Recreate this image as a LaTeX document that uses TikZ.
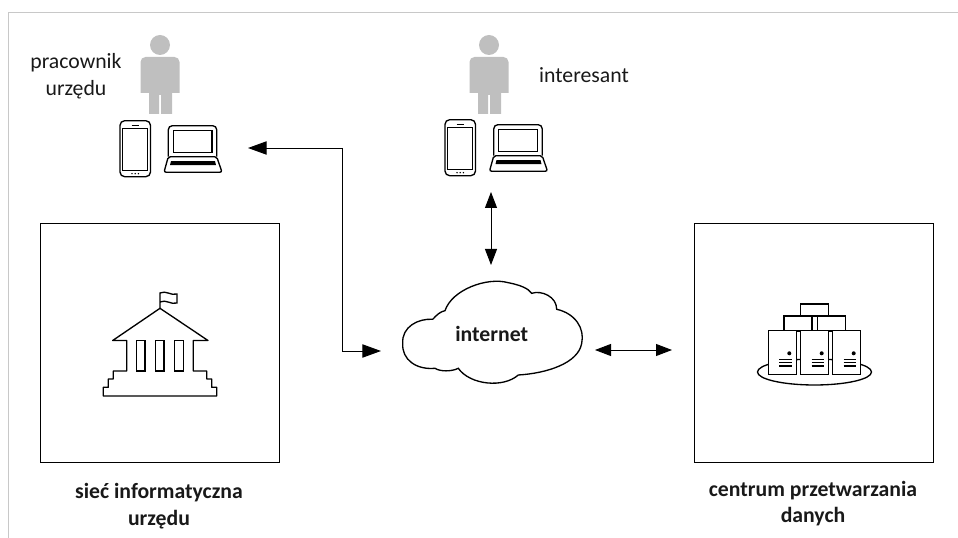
\documentclass[tikz,border=0pt]{standalone}
\usepackage{fontspec}
\setmainfont{Carlito}
\usetikzlibrary{arrows.meta}
\tikzset{every picture/.style={line width=0.75pt}}
\definecolor{framegray}{RGB}{200,200,200}
\definecolor{persongray}{RGB}{191,191,191}
\tikzset{
	label text/.style={font=\fontsize{16.3}{20}\selectfont,align=center,text=black!90},
	bold text/.style={font=\fontsize{16.3}{20}\selectfont\bfseries,align=center,text=black!90},
	link/.style={line width=0.7pt,{Stealth[length=12,width=9,inset=0]}-{Stealth[length=12,width=9,inset=0]}},
	link one/.style={line width=0.7pt,-{Stealth[length=14,width=10,inset=0]}},
	person/.pic={
		\fill [persongray] (0,0) circle [radius=10];
		\fill [persongray] (-19.5,17) arc (180:270:5) -- (14.5,12) arc (270:360:5) -- (19.5,48) -- (12,48) -- (12,69) -- (1,69) -- (1,50) -- (-1,50) -- (-1,69) -- (-11,69) -- (-11,48) -- (-19.5,48) -- cycle;
	},
	phone/.pic={
		\draw [line width=1pt,rounded corners=3.5] (0,0) rectangle (30.5,56);
		\draw [line width=0.9pt] (2.7,8) rectangle (27.7,50);
		\draw [line width=1pt] (11.7,4.5) -- (19.3,4.5);
		\foreach \dotx in {12,15.2,18.4} {\fill (\dotx,53) circle [radius=0.8];}
	},
	laptop/.pic={
		\draw [line width=1pt,rounded corners=3] (4.3,31) -- (4.3,0) -- (52.7,0) -- (52.7,31);
		\draw [line width=0.9pt] (9.3,4.5) rectangle (48,26.5);
		\draw [line width=1pt,rounded corners=1.5] (4.3,31) -- (0,46.5) -- (58,46.5) -- (52.7,31) -- cycle;
		\fill (7,35.5) -- (51,35.5) -- (52,39.5) -- (6,39.5) -- cycle;
	},
	tower/.pic={
		\draw [line width=1pt,fill=white] (0,0) rectangle (28,43.7);
		\fill (21,22.6) circle [radius=2];
		\foreach \liney in {28.6,32,35.3} {\draw [line width=0.8pt] (11,\liney) -- (23.4,\liney);}
	}
}

\begin{document}
\begin{tikzpicture}[x=0.75pt,y=0.75pt,yscale=-1,xscale=1,every pic/.style={yscale=-1}]
	\useasboundingbox (0,0) rectangle (958,538);

	%frame
	\draw [framegray] (958,12.5) -- (8.5,12.5) -- (8.5,538);

	%people and devices
	\pic at (160,45) {person};
	\pic at (120,120.7) {phone};
	\pic at (164,125.7) {laptop};
	\pic at (489,45) {person};
	\pic at (445,119.7) {phone};
	\pic at (489.5,124.7) {laptop};

	% Text Node
	\node (worker) [label text] at (76,76.5) {pracownik\\urzędu};
	% Text Node
	\node (visitor) [label text] at (584,75.5) {interesant};

	%Rects
	\node (officebox) [draw,minimum width=239*0.75pt,minimum height=239*0.75pt,inner sep=0pt] at (159.5,343.5) {};
	\node (databox) [draw,minimum width=239*0.75pt,minimum height=239*0.75pt,inner sep=0pt] at (813.5,343.5) {};

	%building
	\draw [line width=1pt,line join=round] (160,308.3) -- (112.7,340.5) -- (126.7,340.5) -- (126.7,371) -- (113.3,371) -- (113.3,379) -- (108.3,379) -- (108.3,387.3) -- (103.3,387.3) -- (103.3,396) -- (216.7,396) -- (216.7,387.3) -- (211.7,387.3) -- (211.7,379) -- (206.7,379) -- (206.7,371) -- (193.3,371) -- (193.3,340.5) -- (208,340.5) -- cycle;
	\draw [line width=1pt] (136.3,340.5) rectangle (145,371);
	\draw [line width=1pt] (155.3,340.5) rectangle (164,371);
	\draw [line width=1pt] (174.3,340.5) rectangle (183.3,371);
	\draw [line width=1pt] (160,308.3) -- (160,293) .. controls (166,290) and (171,296) .. (177,294) -- (177,303) .. controls (171,305) and (166,299) .. (160,302);

	%servers
	\draw [line width=1pt] (814.5,372) ellipse [x radius=57, y radius=13];
	\draw [line width=1pt,fill=white] (800.7,304) rectangle (828.7,316);
	\draw [line width=1pt,fill=white] (784,316) rectangle (812,331);
	\draw [line width=1pt,fill=white] (817.3,316) rectangle (845.3,331);
	\pic at (768.3,330.7) {tower};
	\pic at (800.7,330.7) {tower};
	\pic at (832.7,330.7) {tower};

	%cloud
	\draw [line width=1pt] (402.7,343.3) .. controls (401.7,326.7) and (418.3,318.3) .. (432.7,319.3) .. controls (436.7,315) and (440,311.7) .. (445,310.7) .. controls (451.7,290) and (486.7,276.7) .. (508.3,282.7) .. controls (520,285) and (528.3,288.3) .. (531.7,293.3) .. controls (541.7,290) and (556.7,296.7) .. (556.7,309.3) .. controls (575,313.3) and (585,328.3) .. (581.7,343.3) .. controls (578.3,363.3) and (546.7,373.3) .. (518.3,375) .. controls (503.3,388.3) and (470,385) .. (458.3,368.3) .. controls (451.7,371.7) and (440,371.7) .. (435,368.3) .. controls (416.7,370) and (401.7,360) .. (402.7,343.3) -- cycle;
	% Text Node
	\node (internet) [bold text] at (491.7,334) {internet};

	% Text Node
	\node (officelabel) [bold text] at (159,506) {sieć informatyczna\\urzędu};
	% Text Node
	\node (datalabel) [bold text] at (813,503.5) {centrum przetwarzania\\danych};

	%arrow ends
	\coordinate (workerend) at (248,148);
	\coordinate (cloudwest) at (381,351);
	\coordinate (visitorend) at (491,192);
	\coordinate (cloudnorth) at (491,265);
	\coordinate (cloudeast) at (595,350);
	\coordinate (datawest) at (672,350);

	\draw [link one] (342,148) -- (workerend);
	\draw [link one] (342,148) |- (cloudwest);
	\draw [link] (visitorend) -- (cloudnorth);
	\draw [link] (cloudeast) -- (datawest);
\end{tikzpicture}
\end{document}
